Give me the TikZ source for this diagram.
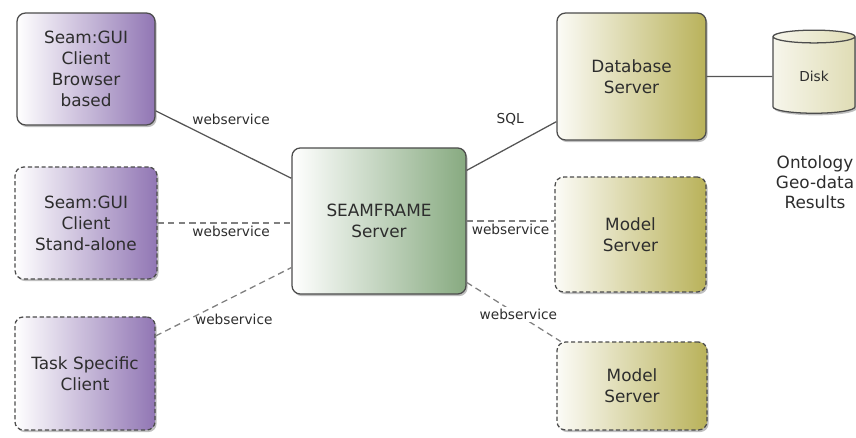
\documentclass[tikz,border=0pt]{standalone}
\usepackage{fontspec}
\setmainfont{DejaVu Sans}
\usetikzlibrary{
    shapes.geometric,
    shadows,
    positioning
}

\definecolor{clientcol}{RGB}{145,118,180}
\definecolor{servercol}{RGB}{135,170,128}
\definecolor{dbcol}{RGB}{185,178,90}
\definecolor{edgecol}{RGB}{85,85,85}
\definecolor{textcol}{RGB}{45,45,45}

\tikzset{
    box/.style={draw=black!70, line width=1.2pt, rounded corners=8pt, align=center,
        text=textcol, font=\fontsize{16}{20}\selectfont,
        drop shadow={shadow xshift=1.5pt, shadow yshift=-2pt, opacity=0.5}},
    client/.style={box, left color=white, right color=clientcol},
    server/.style={box, left color=white, right color=servercol},
    store/.style={box, left color=white!95!dbcol, right color=dbcol},
    optional/.style={dash pattern=on 4pt off 2.5pt},
    link/.style={draw=edgecol, line width=1.2pt},
    weblink/.style={link, draw=edgecol!75, dash pattern=on 6pt off 4pt},
    lbl/.style={font=\fontsize{13}{15}\selectfont, text=textcol, inner sep=2pt}
}

\begin{document}
\begin{tikzpicture}
    \useasboundingbox (0, 0) rectangle (28.533, 14.567);
    \node[client, minimum width=4.6cm, minimum height=3.73cm] (gui) at (2.867, 12.267) {Seam:GUI\\Client\\Browser\\based};
    \node[client, optional, minimum width=4.73cm, minimum height=3.73cm] (alone) at (2.867, 7.133) {Seam:GUI\\Client\\Stand-alone};
    \node[client, optional, minimum width=4.67cm, minimum height=3.77cm] (task) at (2.833, 2.117) {Task Specific\\Client};
    \node[server, minimum width=5.8cm, minimum height=4.87cm] (frame) at (12.633, 7.2) {SEAMFRAME\\Server};
    \node[store, minimum width=4.97cm, minimum height=4.23cm] (db) at (21.05, 12.017) {Database\\Server};
    \node[store, optional, minimum width=5.03cm, minimum height=3.83cm] (model1) at (21.017, 6.75) {Model\\Server};
    \node[store, optional, minimum width=5cm, minimum height=2.93cm] (model2) at (21.067, 1.7) {Model\\Server};
    \node[store, cylinder, shape border rotate=90, aspect=0.35, rounded corners=0pt,
        left color=dbcol!12, right color=dbcol!45,
        minimum width=2.73cm, minimum height=2.77cm, font=\fontsize{13}{15}\selectfont] (disk) at (27.133, 12.017) {Disk};
    \node[align=center, text=textcol, font=\fontsize{16}{19}\selectfont] (data) at (27.167, 8.5) {Ontology\\Geo-data\\Results};
    % connections
    \draw[link] (gui.-31) -- node[lbl, pos=0.25, above right] {webservice} (frame.154);
    \draw[weblink] (alone.east) -- node[lbl, pos=0.55, below] {webservice} (frame.west |- alone.east);
    \draw[weblink] (task.28) -- node[lbl, pos=0.27, right, yshift=-2pt] {webservice} (frame.208);
    \draw[link] (frame.30) -- node[lbl, pos=0.68, above left=9pt and 1pt] {SQL} (db.211);
    \draw[weblink] (frame.east) -- node[lbl, midway, below] {webservice} (frame.east -| model1.west);
    \draw[weblink] (frame.-35) -- node[lbl, pos=0.55, fill=white] {webservice} (model2.148);
    \draw[link] (db.east) -- (disk.west);
\end{tikzpicture}
\end{document}
